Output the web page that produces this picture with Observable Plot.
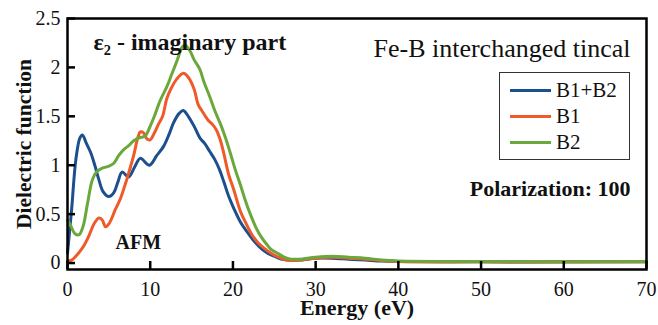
<!DOCTYPE html>
<html>
<head>
<meta charset="utf-8">
<script src="https://cdn.jsdelivr.net/npm/d3@7"></script>
<script src="https://cdn.jsdelivr.net/npm/@observablehq/plot@0.6"></script>
<style>
  html, body { margin: 0; padding: 0; background: #fff; }
  #wrap { position: relative; width: 658px; height: 325px; font-family: "Liberation Serif", "Times New Roman", serif; }
  #wrap svg text { font-family: "Liberation Serif", "Times New Roman", serif; }
  #legend { position: absolute; left: 499px; top: 72px; width: 131px; height: 88px; border: 1.5px solid #333; background: #fff; box-sizing: border-box; }
  .row { position: absolute; left: 10px; height: 24px; display: flex; align-items: center; }
  .sw { width: 41px; height: 3px; margin-right: 5px; }
  .lab { font-size: 21px; color: #111; font-family: "Liberation Serif", "Times New Roman", serif; }
</style>
</head>
<body>
<div id="wrap"></div>
<script>
// ---- data ----
const seriesNames = ["B1+B2", "B1", "B2"];
const seriesColors = ["#1c4f8e", "#ee5a2a", "#6aa83c"];

const blueE = [0, 0.5, 1.0, 1.5, 1.8, 2.3, 2.8, 3.3, 3.8, 4.3, 5.0, 5.6, 6.1, 6.6, 7.4, 8.1, 8.8, 9.9, 10.8, 11.6, 12.3, 12.8, 13.5, 14.0, 14.6, 15.3, 16.0, 16.6, 17.2, 17.8, 18.4, 18.9, 19.5, 20.1, 20.9, 21.7, 22.5, 23.4, 24.2, 25.0, 25.8, 26.6, 28, 30, 32, 34, 36, 38, 40, 50, 60, 70];
const blueV = [0.10, 0.55, 1.05, 1.28, 1.31, 1.22, 1.13, 1.00, 0.85, 0.73, 0.68, 0.72, 0.83, 0.93, 0.88, 0.98, 1.07, 1.00, 1.10, 1.19, 1.32, 1.43, 1.53, 1.56, 1.50, 1.40, 1.28, 1.22, 1.14, 1.06, 0.95, 0.83, 0.68, 0.56, 0.42, 0.32, 0.23, 0.15, 0.10, 0.07, 0.04, 0.03, 0.03, 0.05, 0.05, 0.04, 0.03, 0.02, 0.015, 0.012, 0.012, 0.012];

const orangeE = [0, 0.5, 1.0, 1.5, 2.0, 2.6, 3.2, 3.8, 4.2, 4.6, 5.0, 5.8, 6.4, 7.0, 7.5, 8.0, 8.5, 8.8, 9.2, 9.6, 10.0, 10.5, 11.0, 11.5, 12.0, 12.5, 13.2, 14.0, 14.6, 15.3, 15.8, 16.3, 17.0, 17.5, 18.0, 18.5, 18.9, 19.5, 20.1, 20.9, 21.5, 22.3, 23.0, 23.8, 24.6, 25.5, 26.5, 28, 30, 32, 34, 36, 38, 40, 50, 70];
const orangeV = [0.02, 0.03, 0.07, 0.12, 0.18, 0.28, 0.40, 0.46, 0.44, 0.37, 0.40, 0.55, 0.66, 0.81, 0.95, 1.10, 1.28, 1.34, 1.33, 1.27, 1.26, 1.33, 1.42, 1.50, 1.68, 1.78, 1.88, 1.94, 1.90, 1.78, 1.62, 1.55, 1.46, 1.42, 1.36, 1.25, 1.12, 0.90, 0.75, 0.53, 0.42, 0.29, 0.21, 0.15, 0.10, 0.06, 0.03, 0.03, 0.05, 0.06, 0.05, 0.04, 0.025, 0.015, 0.012, 0.012];

const greenE = [0, 0.4, 0.9, 1.4, 1.9, 2.4, 3.0, 3.5, 4.2, 5.0, 5.6, 6.2, 6.8, 7.4, 8.0, 8.7, 9.4, 10.0, 10.5, 11.2, 12.0, 12.6, 13.25, 13.8, 14.2, 14.8, 15.3, 16.0, 16.5, 17.2, 17.8, 18.5, 19.1, 19.7, 20.3, 20.9, 21.5, 22.1, 22.8, 23.4, 24.0, 24.6, 25.4, 26.2, 27, 28, 30, 32, 34, 36, 38, 40, 50, 70];
const greenV = [0.44, 0.38, 0.30, 0.29, 0.38, 0.60, 0.85, 0.93, 0.97, 0.99, 1.02, 1.10, 1.16, 1.20, 1.25, 1.28, 1.30, 1.40, 1.50, 1.66, 1.80, 1.93, 2.07, 2.20, 2.23, 2.17, 2.08, 1.98, 1.85, 1.70, 1.56, 1.42, 1.28, 1.12, 0.95, 0.80, 0.64, 0.50, 0.36, 0.27, 0.20, 0.14, 0.10, 0.06, 0.04, 0.04, 0.06, 0.07, 0.06, 0.05, 0.03, 0.02, 0.015, 0.015];

const xTicks = [0, 10, 20, 30, 40, 50, 60, 70];
const yTicks = [0, 0.5, 1, 1.5, 2, 2.5];
const yTickLabels = ["0", "0.5", "1", "1.5", "2", "2.5"];
const xTitle = "Energy (eV)";
const yTitle = "Dielectric function";
const panelTitle = "ε₂ - imaginary part";
const systemLabel = "Fe-B interchanged tincal";
const polLabel = "Polarization: 100";
const magLabel = "AFM";

// ---- build table ----
const toRows = (E, V, s) => E.map((e, i) => ({E: e, v: V[i], s}));
const rows = [
  ...toRows(blueE, blueV, seriesNames[0]),
  ...toRows(orangeE, orangeV, seriesNames[1]),
  ...toRows(greenE, greenV, seriesNames[2])
];

const serif = "Liberation Serif, Times New Roman, serif";
const W = 658, H = 325, mL = 67, mR = 12, mT = 18, mB = 56;
const tickLen = 8;

const chart = Plot.plot({
  width: W, height: H,
  marginLeft: mL, marginRight: mR, marginTop: mT, marginBottom: mB,
  style: {fontFamily: serif, background: "#fff", color: "#111"},
  x: {domain: [0, 70]},
  y: {domain: [-0.066, 2.5]},
  color: {domain: seriesNames, range: seriesColors},
  marks: [
    Plot.line(rows, {x: "E", y: "v", z: "s", stroke: "s", strokeWidth: 3, curve: "catmull-rom"}),
    Plot.tickX(xTicks, {x: d => d, stroke: "#000", strokeWidth: 2.5, insetTop: (H - mT - mB) - tickLen}),
    Plot.tickY(yTicks, {y: d => d, stroke: "#000", strokeWidth: 2.5, insetRight: (W - mL - mR) - tickLen}),
    Plot.frame({stroke: "#000", strokeWidth: 2.5}),
    Plot.axisX({ticks: xTicks, tickSize: 0, tickPadding: 12, fontSize: 20, fontFamily: serif, label: null, tickFormat: d => String(d)}),
    Plot.axisY({ticks: yTicks, tickSize: 0, tickPadding: 7, fontSize: 20, fontFamily: serif, label: null, tickFormat: d => yTickLabels[yTicks.indexOf(d)]}),
    Plot.text([xTitle], {frameAnchor: "bottom", dy: 38, text: d => d, fontSize: 22, fontWeight: "bold", fontFamily: serif, textAnchor: "middle", lineAnchor: "middle"}),
    Plot.text([yTitle], {frameAnchor: "left", dx: -43, rotate: -90, text: d => d, fontSize: 21.5, fontWeight: "bold", fontFamily: serif, textAnchor: "middle", lineAnchor: "middle"}),
    Plot.text([panelTitle], {frameAnchor: "top-left", dx: 26, dy: 24, text: d => d, fontSize: 24, fontWeight: "bold", fontFamily: serif, textAnchor: "start", lineAnchor: "middle"}),
    Plot.text([systemLabel], {frameAnchor: "top-right", dx: -16, dy: 30, text: d => d, fontSize: 26, fontFamily: serif, textAnchor: "end", lineAnchor: "middle"}),
    Plot.text([polLabel], {frameAnchor: "top-right", dx: -16, dy: 170, text: d => d, fontSize: 22, fontWeight: "bold", fontFamily: serif, textAnchor: "end", lineAnchor: "middle"}),
    Plot.text([magLabel], {frameAnchor: "top-left", dx: 48, dy: 224, text: d => d, fontSize: 20, fontWeight: "bold", fontFamily: serif, textAnchor: "start", lineAnchor: "middle"})
  ]
});

const wrap = document.getElementById("wrap");
wrap.appendChild(chart);

// legend (line swatches)
const leg = document.createElement("div");
leg.id = "legend";
const rowTops = [5, 31, 57];
seriesNames.forEach((name, i) => {
  const r = document.createElement("div");
  r.className = "row";
  r.style.top = rowTops[i] + "px";
  const sw = document.createElement("div");
  sw.className = "sw";
  sw.style.background = seriesColors[i];
  const lb = document.createElement("span");
  lb.className = "lab";
  lb.textContent = name;
  r.appendChild(sw); r.appendChild(lb);
  leg.appendChild(r);
});
wrap.appendChild(leg);
</script>
</body>
</html>
